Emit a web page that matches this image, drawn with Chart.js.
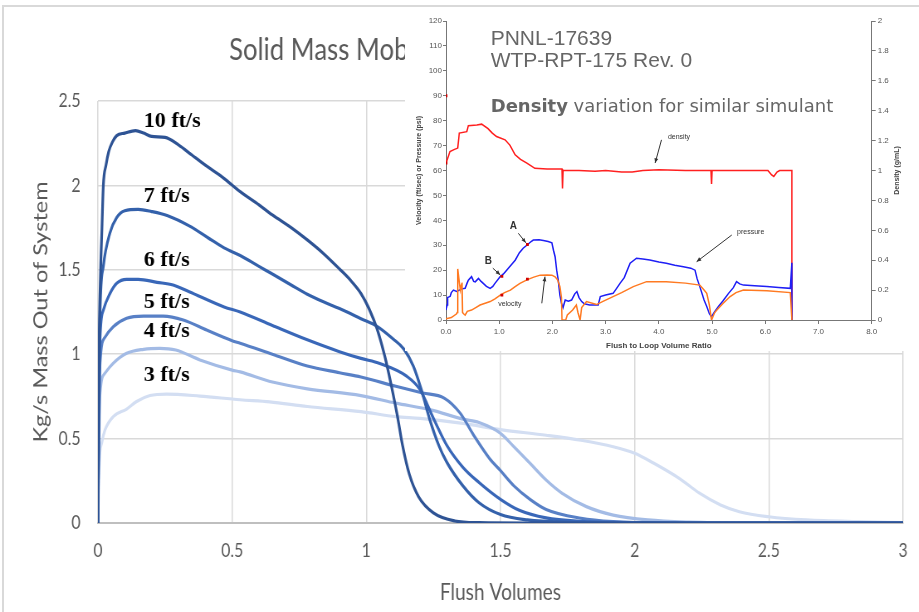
<!DOCTYPE html>
<html>
<head>
<meta charset="utf-8">
<script src="https://cdn.jsdelivr.net/npm/chart.js@4.4.1/dist/chart.umd.min.js"></script>
<style>
    body { margin: 0; width: 919px; height: 612px; overflow: hidden; background: #fff; position: relative; }
    #frame { position: absolute; left: 2px; top: 5px; width: 960px; height: 700px; border: 2px solid #d9d9d9; box-sizing: border-box; }
    /* the source chart was squeezed sideways, so draw it wider and compress */
    #main { position: absolute; left: 0; top: 0; transform: scaleX(0.83); transform-origin: 0 0; }
    #inset { position: absolute; left: 405px; top: 8px; background: #fff; }
</style>
</head>
<body>
<div id="frame"></div>
<canvas id="main" width="1107" height="612"></canvas>
<canvas id="inset" width="514" height="343"></canvas>

<script>
const SQUEEZE = 0.83;

// ---- main chart data (flush volumes, kg/s) ----
const speedLabels = ['10 ft/s', '7 ft/s', '6 ft/s', '5 ft/s', '4 ft/s', '3 ft/s'];
const speedColors = ['#2e5394', '#3461ab', '#3967b8', '#5880c6', '#a3bbe5', '#d3def2'];
const labelX = 0.171;
const labelY = [2.377, 1.933, 1.557, 1.31, 1.135, 0.877];

const flush10 = [[0,0],[0.004,1.0],[0.01,1.5],[0.015,1.75],[0.02,2.0],[0.03,2.12],[0.04,2.2],[0.055,2.26],[0.07,2.295],[0.1,2.31],[0.14,2.325],[0.17,2.31],[0.2,2.29],[0.25,2.285],[0.3,2.24],[0.35,2.18],[0.4,2.12],[0.467,2.045],[0.53,1.963],[0.6,1.885],[0.65,1.825],[0.72,1.75],[0.78,1.677],[0.84,1.597],[0.9,1.505],[0.94,1.44],[0.98,1.36],[1.01,1.27],[1.04,1.15],[1.07,0.98],[1.095,0.8],[1.115,0.64],[1.135,0.46],[1.16,0.29],[1.195,0.155],[1.25,0.06],[1.33,0.012],[1.42,0.002],[1.6,0],[3,0]];
const flush7 = [[0,0],[0.004,0.8],[0.008,1.26],[0.02,1.52],[0.045,1.72],[0.07,1.81],[0.1,1.85],[0.15,1.858],[0.2,1.845],[0.26,1.82],[0.34,1.76],[0.41,1.69],[0.47,1.63],[0.53,1.585],[0.6,1.52],[0.65,1.475],[0.72,1.41],[0.78,1.355],[0.84,1.31],[0.9,1.27],[0.98,1.21],[1.04,1.165],[1.1,1.09],[1.14,1.03],[1.175,0.93],[1.205,0.79],[1.235,0.62],[1.27,0.46],[1.3,0.36],[1.36,0.22],[1.42,0.12],[1.5,0.05],[1.6,0.018],[1.75,0.004],[2,0],[3,0]];
const flush6 = [[0,0],[0.004,0.7],[0.008,1.1],[0.02,1.26],[0.045,1.36],[0.07,1.42],[0.107,1.443],[0.15,1.443],[0.22,1.426],[0.28,1.41],[0.34,1.37],[0.47,1.28],[0.53,1.25],[0.65,1.17],[0.78,1.085],[0.9,1.015],[0.98,0.975],[1.05,0.945],[1.15,0.87],[1.2,0.79],[1.25,0.62],[1.3,0.46],[1.36,0.33],[1.42,0.24],[1.5,0.14],[1.57,0.075],[1.67,0.03],[1.8,0.01],[2.0,0.002],[2.2,0],[3,0]];
const flush5 = [[0,0],[0.004,0.6],[0.008,0.95],[0.026,1.1],[0.057,1.163],[0.107,1.213],[0.17,1.226],[0.243,1.226],[0.318,1.203],[0.405,1.143],[0.5,1.08],[0.53,1.065],[0.65,1.0],[0.78,0.93],[0.9,0.89],[0.98,0.865],[1.11,0.81],[1.21,0.77],[1.29,0.74],[1.35,0.65],[1.4,0.52],[1.46,0.38],[1.5,0.31],[1.55,0.22],[1.61,0.14],[1.67,0.08],[1.8,0.028],[1.92,0.008],[2.1,0],[3,0]];
const flush4 = [[0,0],[0.004,0.5],[0.008,0.77],[0.026,0.887],[0.057,0.946],[0.107,1.005],[0.17,1.029],[0.23,1.035],[0.29,1.025],[0.38,0.966],[0.5,0.906],[0.53,0.895],[0.65,0.835],[0.78,0.795],[0.98,0.755],[1.11,0.71],[1.24,0.67],[1.36,0.615],[1.42,0.595],[1.5,0.531],[1.55,0.452],[1.61,0.354],[1.67,0.255],[1.73,0.176],[1.82,0.097],[1.92,0.047],[2.05,0.018],[2.2,0.005],[2.4,0],[3,0]];
const flush3 = [[0,0],[0.005,0.35],[0.015,0.48],[0.026,0.55],[0.057,0.63],[0.107,0.675],[0.144,0.72],[0.194,0.755],[0.256,0.764],[0.38,0.752],[0.53,0.73],[0.64,0.718],[0.78,0.69],[0.98,0.66],[1.11,0.63],[1.2,0.62],[1.36,0.59],[1.5,0.553],[1.67,0.52],[1.8,0.49],[1.92,0.452],[2.0,0.413],[2.07,0.355],[2.17,0.26],[2.24,0.178],[2.32,0.107],[2.39,0.067],[2.5,0.037],[2.64,0.018],[2.83,0.008],[3.0,0.003]];
const flushSeries = [flush10, flush7, flush6, flush5, flush4, flush3];

// ---- inset chart data (PNNL-17639 test) ----
const densityCurve = [[0,1.05],[0.03,1.08],[0.075,1.127],[0.15,1.14],[0.22,1.15],[0.25,1.25],[0.39,1.26],[0.42,1.3],[0.58,1.305],[0.67,1.31],[0.79,1.28],[0.87,1.25],[0.95,1.227],[1.11,1.205],[1.2,1.17],[1.3,1.105],[1.4,1.075],[1.52,1.05],[1.67,1.015],[1.9,1.01],[2.18,1.01],[2.19,0.88],[2.2,1.0],[2.5,1.0],[2.8,0.995],[3.0,1.0],[3.3,0.99],[3.5,0.99],[3.7,1.0],[4.0,1.005],[4.5,1.0],[4.98,1.0],[4.99,0.91],[5.0,1.0],[5.8,1.0],[6.05,1.0],[6.12,0.97],[6.16,0.96],[6.22,0.99],[6.27,1.0],[6.5,1.0],[6.5,0]];
const pressureCurve = [[0,4],[0.02,6],[0.03,9],[0.08,9.5],[0.1,11],[0.14,12],[0.2,11.5],[0.25,12],[0.3,12.5],[0.36,12.7],[0.4,15],[0.42,16],[0.48,17.4],[0.52,15.5],[0.55,15.3],[0.61,16.7],[0.66,15.5],[0.7,14.7],[0.76,13.5],[0.83,12.7],[0.88,13.5],[0.92,14.7],[1.02,17.4],[1.08,18.5],[1.14,20],[1.22,22],[1.3,24],[1.38,27],[1.45,28.8],[1.53,30.2],[1.6,31.5],[1.64,32.1],[1.75,32.2],[1.83,31.9],[1.92,31.5],[1.99,31],[2.02,28],[2.05,25.4],[2.08,20],[2.11,16],[2.14,10],[2.17,6.7],[2.2,5],[2.24,8],[2.3,7.5],[2.36,8],[2.42,10.5],[2.46,11.4],[2.5,9],[2.55,7.4],[2.6,6.5],[2.7,6],[2.86,6],[2.9,9.4],[3.0,10],[3.14,10.7],[3.2,12.5],[3.27,14.7],[3.35,17],[3.46,22.8],[3.58,24.8],[3.7,24.5],[3.83,24.1],[4.0,23.3],[4.14,22.8],[4.3,22],[4.46,21.4],[4.6,20.8],[4.68,20],[4.72,16.5],[4.77,13.4],[4.85,8],[4.9,5.4],[4.95,2.5],[4.99,1.3],[5.04,3],[5.12,5.4],[5.2,7.5],[5.31,10.7],[5.4,13],[5.46,15.4],[5.52,14.5],[5.59,14],[5.8,13.7],[6.03,13.4],[6.25,13],[6.47,12.7],[6.5,23],[6.5,0]];
const velocityCurve = [[0,0.5],[0.1,1],[0.2,2.5],[0.21,3],[0.22,20.5],[0.24,17],[0.27,12],[0.29,14],[0.3,15],[0.31,3],[0.33,2.5],[0.36,2],[0.4,3.5],[0.48,4],[0.56,5],[0.64,6],[0.75,6.8],[0.83,7.4],[0.92,8.5],[1.02,10],[1.1,11],[1.21,12],[1.3,13.4],[1.39,14.7],[1.53,16.2],[1.65,17.2],[1.77,18],[1.9,18.1],[1.99,18],[2.05,17.3],[2.1,16],[2.14,13.4],[2.17,9],[2.18,0],[2.25,0],[2.28,2],[2.38,4],[2.45,6],[2.48,3],[2.52,0],[2.55,5],[2.64,7.4],[2.83,6.2],[2.95,7.5],[3.14,9.4],[3.3,11],[3.52,13.4],[3.77,15.4],[4.14,15.4],[4.5,14.8],[4.77,14],[4.85,12],[4.9,10.7],[4.95,6],[4.99,0],[5.05,3],[5.09,4],[5.2,6.5],[5.34,9.4],[5.45,11],[5.59,12],[6.03,11.7],[6.47,11],[6.5,0]];
const markedPoints = [[0,90],[0,63],[1.05,17.5],[1.53,30.3],[1.05,10],[1.53,16.4]];

// inset notes: text, x, y (left axis units)
const insetNotes = [
    {text: 'density', x: 4.17, y: 73.5},
    {text: 'pressure', x: 5.47, y: 35.3},
    {text: 'velocity', x: 0.98, y: 6.4},
    {text: 'A', x: 1.2, y: 37.5, bold: true},
    {text: 'B', x: 0.73, y: 23.4, bold: true}
];
// arrows: from x,y to x,y
const insetArrows = [
    [4.05, 72.3, 3.93, 63],
    [5.37, 34.1, 4.71, 23.4],
    [1.80, 6.7, 1.86, 17.4],
    [1.36, 34.8, 1.50, 31],
    [0.88, 20.8, 1.02, 18.1]
];

const mainFont = "Lato, 'Open Sans', sans-serif";
const textGray = '#595959';

// Title and curve labels on the main chart
const mainTextPlugin = {
    id: 'mainText',
    afterDatasetsDraw(chart) {
        const {ctx, scales: {x, y}} = chart;
        ctx.save();
        ctx.fillStyle = textGray;
        ctx.font = '31px ' + mainFont;
        ctx.textBaseline = 'middle';
        ctx.fillText('Solid Mass Mobilization vs. Flush Volumes', 276, 50);

        // the speed labels were not squeezed, so undo the compression for them
        ctx.fillStyle = '#000';
        ctx.font = 'bold 22px "Liberation Serif", serif';
        speedLabels.forEach((t, i) => {
            ctx.save();
            ctx.translate(x.getPixelForValue(labelX), y.getPixelForValue(labelY[i]));
            ctx.scale(1 / SQUEEZE, 1);
            ctx.fillText(t, 0, 0);
            ctx.restore();
        });
        ctx.restore();
    }
};

new Chart(document.getElementById('main'), {
    type: 'line',
    data: {
        datasets: flushSeries.map((s, i) => ({
            label: speedLabels[i],
            data: s.map(p => ({x: p[0], y: p[1]})),
            borderColor: speedColors[i],
            borderWidth: 3.2,
            pointRadius: 0,
            cubicInterpolationMode: 'monotone',
            fill: false
        }))
    },
    options: {
        responsive: false,
        animation: false,
        layout: { padding: { top: 101, right: 19, left: 0, bottom: 0 } },
        plugins: { legend: { display: false }, tooltip: { enabled: false } },
        scales: {
            x: {
                type: 'linear', min: 0, max: 3,
                ticks: { stepSize: 0.5, padding: 16, color: textGray, font: { family: mainFont, size: 19 }, callback: v => String(v) },
                grid: { color: '#d9d9d9', lineWidth: 1.5, drawTicks: false },
                border: { display: true, color: '#bfbfbf', width: 2 },
                title: { display: true, text: 'Flush Volumes', color: textGray, font: { family: mainFont, size: 23 }, padding: { top: 0, bottom: 6 } },
                afterFit(s) { s.height = 89; s.paddingLeft = 0; s.paddingRight = 0; }
            },
            y: {
                min: 0, max: 2.5,
                ticks: { stepSize: 0.5, padding: 21, color: textGray, font: { family: mainFont, size: 19 }, callback: v => String(v) },
                grid: { color: '#d9d9d9', lineWidth: 1.5, drawTicks: false },
                border: { display: false },
                title: { display: true, text: 'Kg/s Mass Out of System', color: textGray, font: { family: mainFont, size: 23.5 }, padding: { top: 35, bottom: 0 } },
                afterFit(s) { s.width = 118; s.paddingTop = 0; s.paddingBottom = 0; }
            }
        }
    },
    plugins: [mainTextPlugin]
});

// ---- inset ----
const insetTextPlugin = {
    id: 'insetText',
    afterDatasetsDraw(chart) {
        const {ctx, chartArea, scales: {x, y}} = chart;
        ctx.save();
        // header texts
        ctx.fillStyle = '#666';
        ctx.textBaseline = 'middle';
        ctx.font = '21px "Liberation Sans", Arial, sans-serif';
        ctx.fillText('PNNL-17639', x.getPixelForValue(0.84), y.getPixelForValue(112.7));
        ctx.fillText('WTP-RPT-175 Rev. 0', x.getPixelForValue(0.84), y.getPixelForValue(103.7));
        ctx.font = 'bold 18px "DejaVu Sans", sans-serif';
        const bx = x.getPixelForValue(0.84), by = y.getPixelForValue(85.4);
        ctx.fillText('Density', bx, by);
        const w = ctx.measureText('Density').width;
        ctx.font = '18px "DejaVu Sans", sans-serif';
        ctx.fillText(' variation for similar simulant', bx + w, by);

        // notes
        ctx.fillStyle = '#333';
        insetNotes.forEach(n => {
            ctx.font = (n.bold ? 'bold 10px' : '7px') + ' "Liberation Sans", Arial, sans-serif';
            ctx.fillText(n.text, x.getPixelForValue(n.x), y.getPixelForValue(n.y));
        });
        // arrows
        ctx.strokeStyle = '#333';
        ctx.fillStyle = '#333';
        ctx.lineWidth = 1;
        insetArrows.forEach(a => {
            const x1 = x.getPixelForValue(a[0]), y1 = y.getPixelForValue(a[1]);
            const x2 = x.getPixelForValue(a[2]), y2 = y.getPixelForValue(a[3]);
            const ang = Math.atan2(y2 - y1, x2 - x1);
            ctx.beginPath();
            ctx.moveTo(x1, y1);
            ctx.lineTo(x2, y2);
            ctx.stroke();
            ctx.beginPath();
            ctx.moveTo(x2, y2);
            ctx.lineTo(x2 - 5 * Math.cos(ang - 0.4), y2 - 5 * Math.sin(ang - 0.4));
            ctx.lineTo(x2 - 5 * Math.cos(ang + 0.4), y2 - 5 * Math.sin(ang + 0.4));
            ctx.closePath();
            ctx.fill();
        });

        // axis titles, both reading bottom to top
        const midY = (chartArea.top + chartArea.bottom) / 2;
        ctx.font = 'bold 7px "Liberation Sans", Arial, sans-serif';
        ctx.textAlign = 'center';
        ctx.fillStyle = '#444';
        [[14, 'Velocity (ft/sec) or Pressure (psi)'], [492, 'Density (g/mL)']].forEach(t => {
            ctx.save();
            ctx.translate(t[0], midY);
            ctx.rotate(-Math.PI / 2);
            ctx.fillText(t[1], 0, 0);
            ctx.restore();
        });
        ctx.restore();
    }
};

const smallFont = { family: '"Liberation Sans", Arial, sans-serif', size: 8 };

new Chart(document.getElementById('inset'), {
    type: 'line',
    data: {
        datasets: [
            { data: markedPoints.map(p => ({x: p[0], y: p[1]})), yAxisID: 'y', showLine: false,
              pointRadius: 2, pointStyle: 'rect', pointBackgroundColor: '#d00000', pointBorderWidth: 0 },
            { data: velocityCurve.map(p => ({x: p[0], y: p[1]})), yAxisID: 'y',
              borderColor: '#ff7a22', borderWidth: 1.5, pointRadius: 0 },
            { data: pressureCurve.map(p => ({x: p[0], y: p[1]})), yAxisID: 'y',
              borderColor: '#1f1ff5', borderWidth: 1.5, pointRadius: 0 },
            { data: densityCurve.map(p => ({x: p[0], y: p[1]})), yAxisID: 'y2',
              borderColor: '#ff2020', borderWidth: 1.5, pointRadius: 0 }
        ]
    },
    options: {
        responsive: false,
        animation: false,
        layout: { padding: { top: 13, left: 0, right: 0, bottom: 0 } },
        plugins: { legend: { display: false }, tooltip: { enabled: false } },
        scales: {
            x: {
                type: 'linear', min: 0, max: 8,
                ticks: { stepSize: 1, padding: 3, color: '#555', font: smallFont, callback: v => v.toFixed(1) },
                grid: { drawOnChartArea: false, tickLength: 4, color: '#777' },
                border: { color: '#777' },
                title: { display: true, text: 'Flush to Loop Volume Ratio', color: '#444', font: { ...smallFont, weight: 'bold' }, padding: 0 },
                afterFit(s) { s.height = 31; }
            },
            y: {
                min: 0, max: 120,
                ticks: { stepSize: 10, padding: 1, color: '#555', font: smallFont },
                grid: { drawOnChartArea: false, tickLength: 3, color: '#777' },
                border: { color: '#777' },
                afterFit(s) { s.width = 41; }
            },
            y2: {
                position: 'right', min: 0, max: 2,
                ticks: { stepSize: 0.2, padding: 2, color: '#555', font: smallFont, callback: v => String(Math.round(v * 10) / 10) },
                grid: { drawOnChartArea: false, tickLength: 4, color: '#777' },
                border: { color: '#777' },
                afterFit(s) { s.width = 47.3; }
            }
        }
    },
    plugins: [insetTextPlugin]
});
</script>
</body>
</html>
